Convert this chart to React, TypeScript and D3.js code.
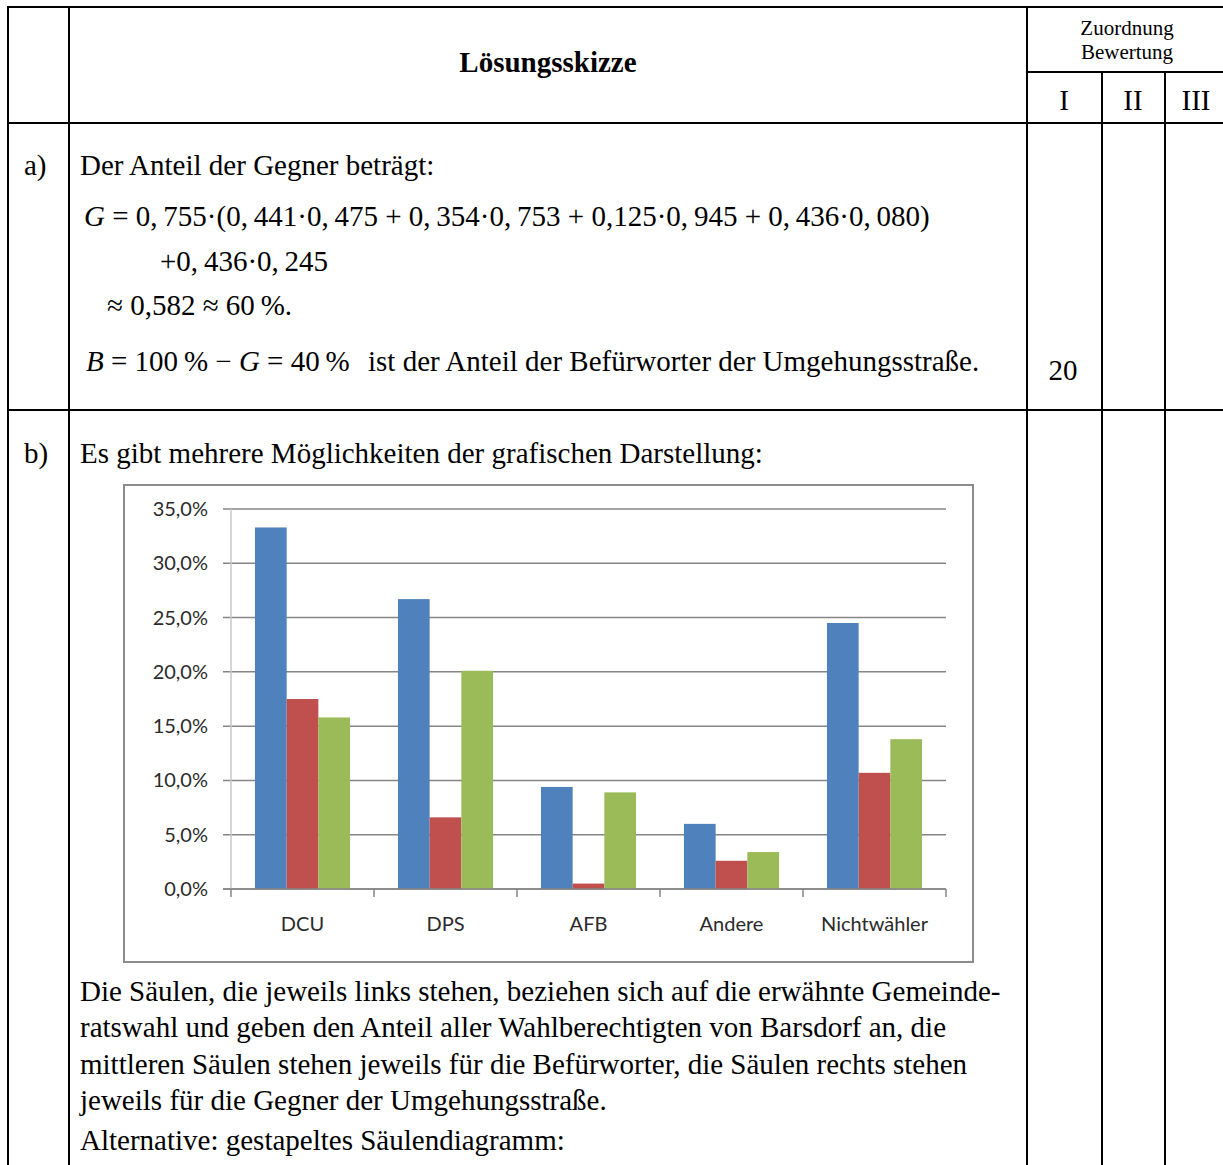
import React from 'react';
import * as d3 from 'd3';

const categories = ['DCU', 'DPS', 'AFB', 'Andere', 'Nichtwähler'];
const wahlAnteil = [33.3, 26.7, 9.4, 6.0, 24.5];
const befuerworter = [17.5, 6.6, 0.5, 2.6, 10.7];
const gegner = [15.8, 20.1, 8.9, 3.4, 13.8];
const yTicks = [0, 5, 10, 15, 20, 25, 30, 35];
const seriesColors = ['#4f81bd', '#c0504d', '#9bbb59'];
const paragraph = [
  'Die Säulen, die jeweils links stehen, beziehen sich auf die erwähnte Gemeinde-',
  'ratswahl und geben den Anteil aller Wahlberechtigten von Barsdorf an, die',
  'mittleren Säulen stehen jeweils für die Befürworter, die Säulen rechts stehen',
  'jeweils für die Gegner der Umgehungsstraße.',
];

const SERIF = "'Liberation Serif', 'Times New Roman', serif";
const SANS = "Lato, 'Liberation Sans', sans-serif";

export default function App() {
  const series = [wahlAnteil, befuerworter, gegner];
  const x = d3.scaleBand<string>().domain(categories).range([231, 946]).paddingInner(0.335).paddingOuter(0.1675);
  const xs = d3.scaleBand<number>().domain([0, 1, 2]).range([0, x.bandwidth()]);
  const y = d3.scaleLinear().domain([0, 35]).range([889, 509]);
  const fmt = (v: number) => d3.format('.1f')(v).replace('.', ',') + '%';
  const step = x.step();
  const tickXs = d3.range(categories.length + 1).map((i) => 231 + i * step);

  const fs = 29;
  const lineY = [1001, 1037, 1074, 1110];

  return (
    <svg width={1223} height={1165} style={{ position: 'absolute', left: 0, top: 0, background: '#fff' }}>
      <rect x={0} y={0} width={1223} height={1165} fill="#fff" />
      {/* table lines */}
      <g stroke="#000" strokeWidth={2}>
        <line x1={8} y1={7} x2={1223} y2={7} />
        <line x1={8} y1={123} x2={1223} y2={123} />
        <line x1={8} y1={410} x2={1223} y2={410} />
        <line x1={1027} y1={72} x2={1223} y2={72} />
        <line x1={8} y1={6} x2={8} y2={1165} />
        <line x1={69} y1={6} x2={69} y2={1165} />
        <line x1={1027} y1={6} x2={1027} y2={1165} />
        <line x1={1102} y1={72} x2={1102} y2={1165} />
        <line x1={1165} y1={72} x2={1165} y2={1165} />
      </g>
      {/* header */}
      <g fontFamily={SERIF} fill="#000">
        <text x={548} y={72} fontSize={fs} fontWeight="bold" textAnchor="middle">Lösungsskizze</text>
        <text x={1127} y={35} fontSize={21} textAnchor="middle">Zuordnung</text>
        <text x={1127} y={59} fontSize={21} textAnchor="middle">Bewertung</text>
        <text x={1064} y={110} fontSize={fs} textAnchor="middle">I</text>
        <text x={1133} y={110} fontSize={fs} textAnchor="middle">II</text>
        <text x={1196} y={110} fontSize={fs} textAnchor="middle">III</text>

        {/* part a */}
        <text x={24} y={175} fontSize={fs}>a)</text>
        <text x={80} y={175} fontSize={fs}>Der Anteil der Gegner beträgt:</text>
        <text x={84} y={226} fontSize={fs}>
          <tspan fontStyle="italic">G</tspan>
          {' = 0,\u2009755·(0,\u2009441·0,\u2009475 + 0,\u2009354·0,\u2009753 + 0,125·0,\u2009945 + 0,\u2009436·0,\u2009080)'}
        </text>
        <text x={160} y={271} fontSize={fs}>+0,&#8201;436·0,&#8201;245</text>
        <text x={107} y={315} fontSize={fs}>≈ 0,582 ≈ 60&#8201;%.</text>
        <text x={86} y={371} fontSize={fs}>
          <tspan fontStyle="italic">B</tspan>
          {' = 100\u2009% − '}
          <tspan fontStyle="italic">G</tspan>
          {' = 40\u2009%'}
        </text>
        <text x={368} y={371} fontSize={fs}>ist der Anteil der Befürworter der Umgehungsstraße.</text>
        <text x={1063} y={380} fontSize={fs} textAnchor="middle">20</text>

        {/* part b */}
        <text x={24} y={463} fontSize={fs}>b)</text>
        <text x={80} y={463} fontSize={fs}>Es gibt mehrere Möglichkeiten der grafischen Darstellung:</text>
        {paragraph.map((t, i) => (
          <text key={i} x={80} y={lineY[i]} fontSize={fs}>{t}</text>
        ))}
        <text x={80} y={1150} fontSize={fs}>Alternative: gestapeltes Säulendiagramm:</text>
      </g>

      {/* chart */}
      <rect x={124} y={485} width={849} height={477} fill="#fff" stroke="#8c8c8c" strokeWidth={2} />
      <g>
        {yTicks.map((t) => (
          <g key={t}>
            <line x1={223} x2={946} y1={y(t)} y2={y(t)} stroke="#868686" strokeWidth={1.5} />
            <text x={208} y={y(t) + 7} fontSize={20} fontFamily={SANS} fill="#2b2b2b" textAnchor="end">{fmt(t)}</text>
          </g>
        ))}
        <line x1={231} x2={231} y1={509} y2={889} stroke="#c8c8c8" strokeWidth={1.5} />
        {tickXs.map((tx, i) => (
          <line key={i} x1={tx} x2={tx} y1={889} y2={897} stroke="#868686" strokeWidth={1.5} />
        ))}
        {categories.map((c, ci) =>
          series.map((s, si) => (
            <rect
              key={c + si}
              x={(x(c) as number) + (xs(si) as number)}
              y={y(s[ci])}
              width={xs.bandwidth()}
              height={y(0) - y(s[ci])}
              fill={seriesColors[si]}
            />
          ))
        )}
        <line x1={223} x2={946} y1={889} y2={889} stroke="#868686" strokeWidth={1.5} />
        {categories.map((c) => (
          <text key={c} x={(x(c) as number) + x.bandwidth() / 2} y={931} fontSize={20} fontFamily={SANS} fill="#2b2b2b" textAnchor="middle">{c}</text>
        ))}
      </g>
    </svg>
  );
}
